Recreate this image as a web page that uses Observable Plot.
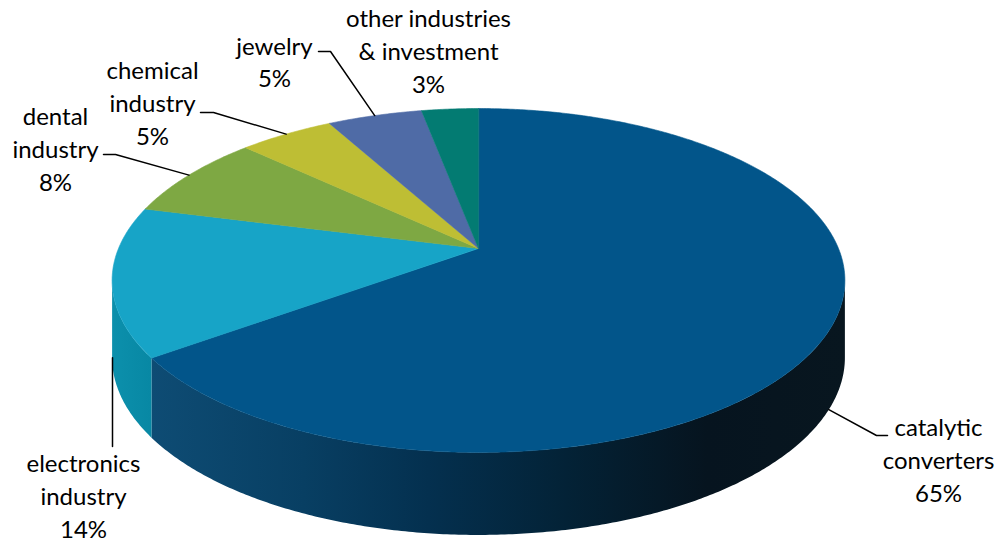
<!DOCTYPE html>
<html>
<head>
<meta charset="utf-8">
<script src="https://cdn.jsdelivr.net/npm/d3@7"></script>
<script src="https://cdn.jsdelivr.net/npm/@observablehq/plot@0.6"></script>
<style>
  html, body { margin: 0; padding: 0; background: #ffffff; }
  #chart svg { display: block; }
</style>
</head>
<body>
<div id="chart"></div>
<script>
// ---- data ----
const categories = ["catalytic converters", "electronics industry", "dental industry", "chemical industry", "jewelry", "other industries & investment"];
const labelLines = [["catalytic", "converters"], ["electronics", "industry"], ["dental", "industry"], ["chemical", "industry"], ["jewelry"], ["other industries", "& investment"]];
const shares = [65, 14, 8, 5, 5, 3];

// ---- styles ----
const topColors = ["#02558A", "#17A4C7", "#7EA843", "#BEBE34", "#4F6BA6", "#037B72"];
const sideGrad = [
  {id: "sideGrad0", x1: 150, x2: 845, stops: [[0, "#0E4C74"], [0.22, "#083F63"], [0.4, "#04304F"], [0.6, "#032236"], [0.8, "#06141F"], [1, "#08161F"]]},
  {id: "sideGrad1", x1: 110, x2: 160, stops: [[0, "#0C90AC"], [1, "#0786A2"]]}
];

// ---- layout (label placement, pixels) ----
const labelPos = [[938, 458], [83, 494], [55, 147], [152, 101], [274, 60], [428, 49]];
const leaderStart = [[887, 435], [112, 446], [103, 154], [200, 112], [318, 51], null];
const leaderElbow = [[876, 435], null, [115, 154], [213, 112], [330, 51], null];
const anchorOnSide = [true, true, false, false, false, false];

// ---- 3D tilted-pie projection ----
const cx = 478, cy = 248, A = 360, B = 166, k = 0.186, D = 76;
function proj(deg, bottom) {
  const t = deg * Math.PI / 180;
  const u = Math.sin(t), v = -Math.cos(t);
  const w = 1 - k * v;
  return [cx + A * u / w, cy + B * v / w + (bottom ? D * Math.pow(1 / w, 0.4) : 0)];
}

const total = d3.sum(shares);
const starts = [];
let acc = 0;
shares.forEach(s => { starts.push(acc / total * 360); acc += s; });
const ends = starts.map((s, i) => s + shares[i] / total * 360);

// top faces
const topPts = [];
shares.forEach((s, i) => {
  const id = "top" + i;
  topPts.push({id, x: cx, y: cy, fill: topColors[i]});
  const n = Math.max(4, Math.ceil((ends[i] - starts[i]) / 0.5));
  for (let j = 0; j <= n; j++) {
    const [x, y] = proj(starts[i] + (ends[i] - starts[i]) * j / n, false);
    topPts.push({id, x, y, fill: topColors[i]});
  }
});

// visible side (front half of rim), one polygon per visible slice
const visA = Math.acos(-k) * 180 / Math.PI;   // right extreme
const visB = 360 - visA;                      // left extreme
const sidePts = [];
shares.forEach((s, i) => {
  const a0 = Math.max(starts[i], visA), b0 = Math.min(ends[i], visB);
  if (b0 <= a0) return;
  const n = Math.ceil((b0 - a0) / 0.5);
  const topArc = [], botArc = [];
  for (let j = 0; j <= n; j++) {
    const a = a0 + (b0 - a0) * j / n;
    topArc.push(proj(a, false));
    botArc.push(proj(a, true));
  }
  const fill = "url(#" + sideGrad[i].id + ")";
  topArc.concat(botArc.reverse()).forEach(p => sidePts.push({id: "side" + i, x: p[0], y: p[1], fill}));
});

// labels
const labels = categories.map((c, i) => ({
  text: labelLines[i].join("\n") + "\n" + shares[i] + "%",
  x: labelPos[i][0], y: labelPos[i][1]
}));

// leaders
const leaderPts = [];
categories.forEach((c, i) => {
  if (!leaderStart[i]) return;
  const mid = (starts[i] + ends[i]) / 2;
  const anc = proj(mid, anchorOnSide[i]);
  const pts = [leaderStart[i]];
  if (leaderElbow[i]) pts.push(leaderElbow[i]);
  if (anchorOnSide[i] && !leaderElbow[i]) pts.push([leaderStart[i][0], anc[1]]);
  else pts.push(anc);
  pts.forEach(p => leaderPts.push({id: "L" + i, x: p[0], y: p[1]}));
});

const chart = Plot.plot({
  width: 997,
  height: 542,
  margin: 0,
  style: {background: "#ffffff", fontFamily: "Lato, 'Open Sans', sans-serif"},
  x: {type: "linear", domain: [0, 997], range: [0, 997], axis: null},
  y: {type: "linear", domain: [0, 542], range: [0, 542], axis: null},
  color: {type: "identity"},
  marks: [
    Plot.line(sidePts, {x: "x", y: "y", z: "id", fill: "fill", stroke: "none", curve: "linear-closed"}),
    Plot.line(topPts, {x: "x", y: "y", z: "id", fill: "fill", stroke: "fill", strokeWidth: 0.6, curve: "linear-closed"}),
    Plot.line(leaderPts, {x: "x", y: "y", z: "id", stroke: "#000000", strokeWidth: 1.5}),
    Plot.text(labels, {x: "x", y: "y", text: "text", fontSize: 24, lineHeight: 1.36, fill: "#000000", textAnchor: "middle", lineAnchor: "middle", fontFamily: "Lato, 'Open Sans', sans-serif"})
  ]
});

// gradient definitions for the shaded rim
const defs = d3.select(chart).insert("defs", ":first-child");
sideGrad.forEach(g => {
  const lg = defs.append("linearGradient").attr("id", g.id).attr("gradientUnits", "userSpaceOnUse")
    .attr("x1", g.x1).attr("x2", g.x2).attr("y1", 0).attr("y2", 0);
  g.stops.forEach(([o, c]) => lg.append("stop").attr("offset", o).attr("stop-color", c));
});

document.getElementById("chart").appendChild(chart);
</script>
</body>
</html>
